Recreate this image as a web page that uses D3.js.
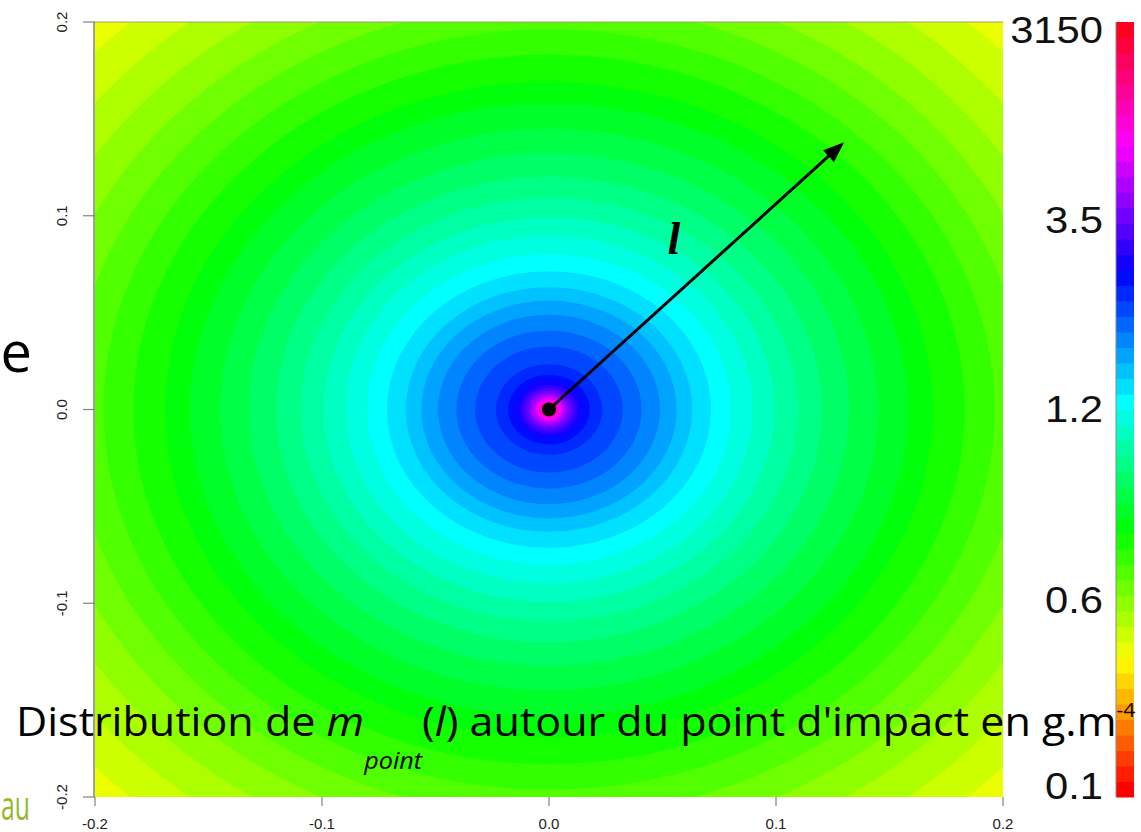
<!DOCTYPE html>
<html>
<head>
<meta charset="utf-8">
<script src="https://cdn.jsdelivr.net/npm/d3@7"></script>
<style>
  html, body { margin: 0; padding: 0; background: #ffffff; overflow: hidden; }
  svg { display: block; }
</style>
</head>
<body>
<svg id="chart" width="1141" height="832"></svg>
<script>
// ---------------- data ----------------
const tickValues = [-0.2, -0.1, 0.0, 0.1, 0.2];
const tickLabels = ["-0.2", "-0.1", "0.0", "0.1", "0.2"];
const nLevels = 50;
// level index of each ring (band) and its outer radius l (data units)
const ringLevels = [8, 9, 10, 11, 12, 13, 14, 15, 16, 17, 18, 19, 20, 21, 22, 23, 24, 25,
  26, 27, 28, 29, 30, 31, 32, 33, 34, 35, 36, 37, 38, 39, 40, 41, 42, 43, 44, 45, 46, 47, 48, 49];
const ringOuterRadius = [0.31, 0.29, 0.272, 0.255, 0.239, 0.224, 0.210, 0.1963, 0.1831, 0.1691,
  0.1581, 0.1449, 0.1322, 0.1203, 0.1094, 0.0993, 0.0897, 0.0801, 0.0714, 0.0631, 0.0562,
  0.0489, 0.0408, 0.0325, 0.0234, 0.018, 0.0145, 0.0125, 0.011, 0.0097, 0.0085, 0.0075,
  0.0066, 0.0058, 0.005, 0.0044, 0.0038, 0.0033, 0.0028, 0.0023, 0.0018, 0.0012];
const colorbarLabels = ["0.1", "0.6", "1.2", "3.5", "3150"];
const colorbarLabelLevels = [0.7, 12.7, 25, 37.25, 49.5];
const impactPoint = [0.0, 0.0];
const arrowEnd = [0.13, 0.138];

// ---------------- layout ----------------
const svg = d3.select("#chart");
const plot = { left: 95, right: 1003, top: 22, bottom: 797 };
const bar = { left: 1116, right: 1134 };

const x = d3.scaleLinear().domain([-0.2, 0.2]).range([plot.left, plot.right]);
const y = d3.scaleLinear().domain([-0.2, 0.2]).range([plot.bottom, plot.top]);
const barY = d3.scaleLinear().domain([0, nLevels]).range([plot.bottom, plot.top]);
const hue = d3.scaleLinear().domain([0, nLevels]).range([0, 360]);
const levelColor = i => d3.hsl(hue(i), 1, 0.5).formatHex();

// clip
svg.append("defs").append("clipPath").attr("id", "plotClip")
  .append("rect")
  .attr("x", plot.left).attr("y", plot.top)
  .attr("width", plot.right - plot.left).attr("height", plot.bottom - plot.top);

// ---------------- field (concentric bands) ----------------
const rings = ringLevels.map((lv, i) => ({ level: lv, r: ringOuterRadius[i] }))
  .sort((a, b) => b.r - a.r);

svg.append("g").attr("clip-path", "url(#plotClip)")
  .selectAll("ellipse").data(rings).join("ellipse")
  .attr("cx", x(impactPoint[0]))
  .attr("cy", y(impactPoint[1]))
  .attr("rx", d => x(d.r) - x(0))
  .attr("ry", d => y(0) - y(d.r))
  .attr("fill", d => levelColor(d.level));

// ---------------- axes ----------------
const axisColor = "#808080";
const axG = svg.append("g");
axG.append("line")
  .attr("x1", plot.left - 1).attr("x2", plot.left - 1)
  .attr("y1", plot.top).attr("y2", plot.bottom)
  .attr("stroke", axisColor).attr("stroke-width", 1.5);
axG.append("line")
  .attr("x1", plot.left).attr("x2", plot.right)
  .attr("y1", plot.top).attr("y2", plot.top)
  .attr("stroke", "#a8a070").attr("stroke-width", 1.2);

// y ticks
axG.selectAll(".ytick").data(tickValues).join("line")
  .attr("x1", plot.left - 12).attr("x2", plot.left)
  .attr("y1", d => y(d)).attr("y2", d => y(d))
  .attr("stroke", axisColor).attr("stroke-width", 1.2);
axG.selectAll(".ylab").data(tickValues).join("text")
  .attr("transform", d => `translate(62,${y(d)}) rotate(-90)`)
  .attr("text-anchor", "middle")
  .attr("dy", "0.35em")
  .style("font-family", "'Liberation Sans', Arial, sans-serif")
  .style("font-size", "15px")
  .attr("fill", "#222")
  .text((d, i) => tickLabels[i]);

// x ticks
axG.selectAll(".xtick").data(tickValues).join("line")
  .attr("x1", d => x(d)).attr("x2", d => x(d))
  .attr("y1", plot.bottom).attr("y2", plot.bottom + 9)
  .attr("stroke", axisColor).attr("stroke-width", 1.2);
axG.selectAll(".xlab").data(tickValues).join("text")
  .attr("x", d => x(d)).attr("y", 829)
  .attr("text-anchor", "middle")
  .style("font-family", "'Liberation Sans', Arial, sans-serif")
  .style("font-size", "15px")
  .attr("fill", "#222")
  .text((d, i) => tickLabels[i]);

// ---------------- colour bar ----------------
const levels = d3.range(nLevels);
svg.append("g").selectAll("rect").data(levels).join("rect")
  .attr("x", bar.left)
  .attr("y", d => barY(d + 1))
  .attr("width", bar.right - bar.left)
  .attr("height", d => barY(d) - barY(d + 1) + 0.5)
  .attr("fill", d => levelColor(d));
svg.append("line")
  .attr("x1", bar.left).attr("x2", bar.left)
  .attr("y1", plot.top).attr("y2", plot.bottom)
  .attr("stroke", "#8a8a8a").attr("stroke-width", 1);

svg.append("g").selectAll("text").data(colorbarLabels).join("text")
  .attr("transform", (d, i) => `translate(1103,${barY(colorbarLabelLevels[i])}) scale(1.16,1)`)
  .attr("text-anchor", "end")
  .attr("dy", "0.36em")
  .style("font-family", "'Liberation Sans', Arial, sans-serif")
  .style("font-size", "36px")
  .attr("fill", "#111")
  .text(d => d);

// ---------------- arrow, impact point, l label ----------------
const x0 = x(impactPoint[0]), y0 = y(impactPoint[1]);
const x1 = x(arrowEnd[0]), y1 = y(arrowEnd[1]);
const ang = Math.atan2(y1 - y0, x1 - x0);
const headLen = 21, headHalf = 8;
const bx = x1 - headLen * Math.cos(ang), by = y1 - headLen * Math.sin(ang);
svg.append("line")
  .attr("x1", x0).attr("y1", y0).attr("x2", bx + 3 * Math.cos(ang)).attr("y2", by + 3 * Math.sin(ang))
  .attr("stroke", "#000").attr("stroke-width", 3);
svg.append("polygon")
  .attr("points", [
    [x1, y1],
    [bx + headHalf * Math.sin(ang), by - headHalf * Math.cos(ang)],
    [bx - headHalf * Math.sin(ang), by + headHalf * Math.cos(ang)]
  ].map(p => p.join(",")).join(" "))
  .attr("fill", "#000");
svg.append("circle").attr("cx", x0).attr("cy", y0).attr("r", 7).attr("fill", "#000");

svg.append("text")
  .attr("x", 674).attr("y", 254)
  .attr("text-anchor", "middle")
  .style("font-family", "'Liberation Serif', 'Times New Roman', serif")
  .style("font-style", "italic").style("font-weight", "bold")
  .style("font-size", "46px")
  .text("l");

// ---------------- overlay texts ----------------
const sansFont = "'Open Sans', 'Noto Sans', sans-serif";
svg.append("text")
  .attr("x", 32).attr("y", 372)
  .attr("text-anchor", "end")
  .style("font-family", sansFont).style("font-size", "56px")
  .attr("fill", "#000")
  .text("e");

svg.append("text")
  .attr("transform", "translate(1,820) scale(0.62,1)")
  .attr("text-anchor", "start")
  .style("font-family", sansFont).style("font-size", "40px")
  .attr("fill", "#98b52c")
  .text("au");

const title = svg.append("text")
  .style("font-family", sansFont).style("font-size", "41px")
  .attr("fill", "#000");
const parts = [
  { t: "Distribution de ", it: false, dy: 0, fs: 41 },
  { t: "m", it: true, dy: 0, fs: 41 },
  { t: "point", it: true, dy: 33, fs: 24 },
  { t: "(", it: false, dy: -33, fs: 41 },
  { t: "l", it: true, dy: 0, fs: 41 },
  { t: ") autour du point d'impact en g.m", it: false, dy: 0, fs: 41 },
  { t: "-4", it: false, dy: -19, fs: 20 }
];
parts.forEach(p => {
  title.append("tspan")
    .attr("dy", p.dy)
    .style("font-style", p.it ? "italic" : "normal")
    .style("font-size", p.fs + "px")
    .text(p.t);
});
title.attr("transform", "translate(16,736)");
const node = title.node();
const nChars = node.getNumberOfChars();
const mainEnd = node.getEndPositionOfChar(nChars - 3).x;
const sx = (1117 - 16) / mainEnd;
title.attr("transform", `translate(16,736) scale(${sx},1)`);
</script>
</body>
</html>
